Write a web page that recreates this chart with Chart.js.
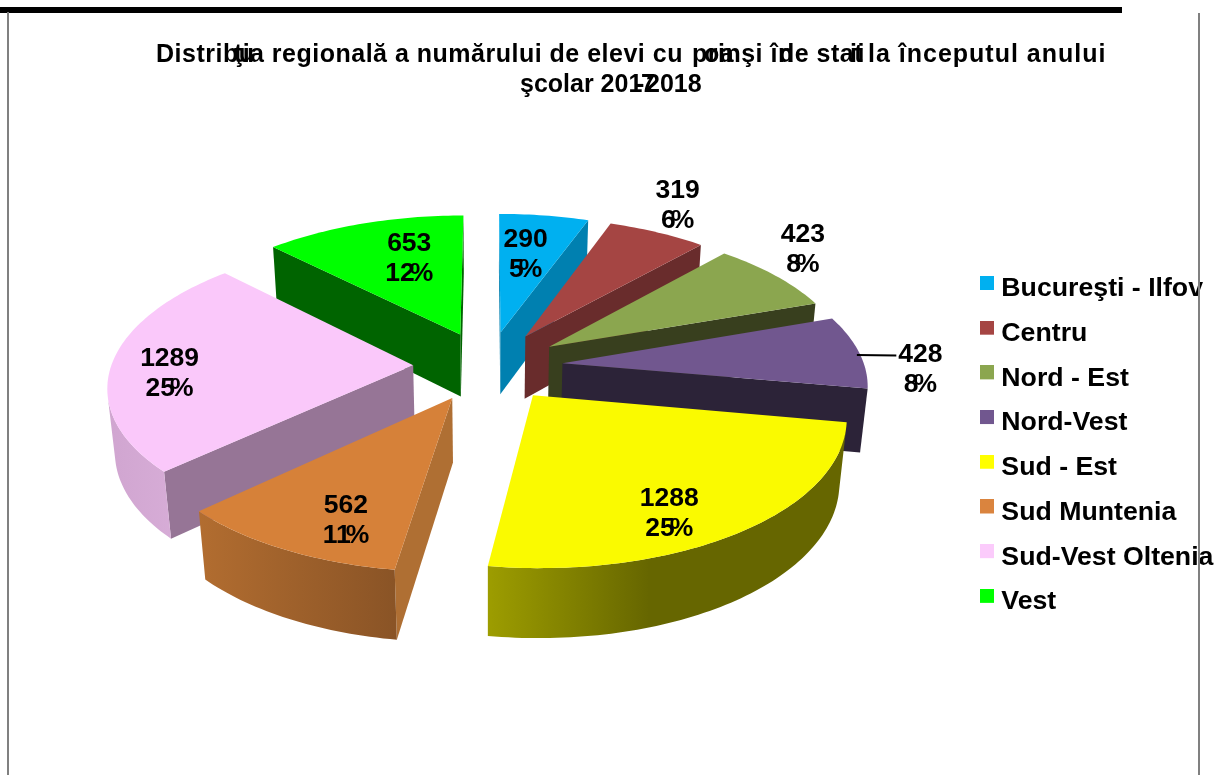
<!DOCTYPE html>
<html>
<head>
<meta charset="utf-8">
<style>
html,body{margin:0;padding:0;background:#fff;overflow:hidden}
#wrap{position:relative;width:1215px;height:775px}
canvas{display:block}
.rule{position:absolute;pointer-events:none}
</style>
<script src="https://cdn.jsdelivr.net/npm/chart.js@4"></script>
</head>
<body>
<div id="wrap">
<canvas id="c" width="1215" height="775"></canvas>
<div class="rule" style="left:0;top:7px;width:1122px;height:6px;background:#000"></div>
<div class="rule" style="left:7px;top:12px;width:2px;height:763px;background:#808080"></div>
<div class="rule" style="left:1198px;top:13px;width:2px;height:762px;background:#808080"></div>
</div>
<script>
const categories = ['Bucureşti - Ilfov','Centru','Nord - Est','Nord-Vest','Sud - Est','Sud Muntenia','Sud-Vest Oltenia','Vest'];
const values = [290,319,423,428,1288,562,1289,653];
const percentNumbers = ['5','6','8','8','25','11','25','12'];

const legendColors = ['#00B0F0','#A54543','#8BA64F','#71578F','#FFFF00','#DA843E','#FBCBFB','#00FF00'];
const topColors    = ['#00B0F0','#A54543','#8BA64F','#71578F','#FAFA00','#D68139','#FAC8FA','#00FF00'];
const sideColors   = ['#0080B0','#692C2C','#383F1E','#2C2338','#666600','#AF6F33','#967596','#006400'];
const rimStops = [
  [[0,'#0080B0'],[1,'#0080B0']],
  [[0,'#692C2C'],[1,'#692C2C']],
  [[0,'#383F1E'],[1,'#383F1E']],
  [[0,'#2C2338'],[1,'#2C2338']],
  [[0,'#9D9D00'],[0.45,'#666600'],[1,'#666600']],
  [[0,'#B26D30'],[1,'#8A5426']],
  [[0,'#D0A5D0'],[1,'#DCB2DC']],
  [[0,'#006400'],[1,'#006400']]
];
const camera = {cx:488, cy:366, sx:302, sy:142, persp:0.13, drop:64.5, dropPersp:0.02};
const explode = 0.248;
const labelReach = [0.905,1.53,1.50,1.43,1.05,1.03,1.05,0.905];
const labelTurn  = [-1.1,-2,-5,5,5.5,-4,-3,3.7];
const leaderSlices = [3];

const titleFont = 'bold 25px "Liberation Sans", Arial, sans-serif';
const titleLines = [
  {base:62, parts:[['Distribu',156,0.5],['ţi',234,0.5],['a regională a numărului de elevi cu',250,0.5],['prinşi în',692,0.5],['oa',704,0.5],['de stat',779,0.5],['ii',850,0.5],['la începutul anului',868,1]]},
  {base:92, parts:[['şcolar 201',520,0],['-',636,0],['7',641,0],['2018',646,0]]}
];
const labelFont = 'bold 26.5px "Liberation Sans", Arial, sans-serif';

function project(X,Y,Z){
  const w = 1 + camera.persp*Y + camera.dropPersp*Z;
  return [camera.cx + camera.sx*X/w, camera.cy + (-camera.sy*Y + camera.drop*Z)/w];
}
function planePoint(mid,theta,r){
  return [explode*Math.sin(mid) + r*Math.sin(theta), explode*Math.cos(mid) + r*Math.cos(theta)];
}
function area(p){let s=0;for(let i=0;i<p.length;i++){const a=p[i],b=p[(i+1)%p.length];s+=a[0]*b[1]-b[0]*a[1];}return s;}
function fillPoly(ctx,p,fill){
  ctx.beginPath();ctx.moveTo(p[0][0],p[0][1]);
  for(let i=1;i<p.length;i++)ctx.lineTo(p[i][0],p[i][1]);
  ctx.closePath();ctx.fillStyle=fill;ctx.fill();
}
function wallQuad(a,b){
  return [project(a[0],a[1],0),project(b[0],b[1],0),project(b[0],b[1],1),project(a[0],a[1],1)];
}
function drawWall(ctx,a,b,fill){
  const q=wallQuad(a,b);
  if(area(q)<0) fillPoly(ctx,q,fill);
}
function drawRim(ctx,rim,fill){
  let run=[];
  const flush=()=>{
    if(run.length>1){
      const up=run.map(p=>project(p[0],p[1],0));
      const down=run.slice().reverse().map(p=>project(p[0],p[1],1));
      fillPoly(ctx,up.concat(down),fill);
    }
    run=[];
  };
  for(let k=0;k<rim.length-1;k++){
    if(area(wallQuad(rim[k],rim[k+1]))<0){
      if(!run.length) run.push(rim[k]);
      run.push(rim[k+1]);
    } else flush();
  }
  flush();
}
function legendSwatch(color){
  const c=document.createElement('canvas');
  c.width=14;c.height=26;
  const g=c.getContext('2d');
  g.fillStyle=color;g.fillRect(0,0,14,14);
  return c;
}
const pie3d = {
  id:'pie3d',
  afterLayout(chart){
    const lg=chart.legend; const pad=lg.options.labels.padding;
    lg.left=986-pad; lg.top=275.6-pad; lg.bottom=775; lg.right=1215;
  },
  beforeDatasetDraw(chart,args){
    const ctx=chart.ctx, arcs=chart.getDatasetMeta(args.index).data;
    const slices=arcs.map((arc,i)=>{
      const a=arc.startAngle+Math.PI/2, b=arc.endAngle+Math.PI/2, mid=(a+b)/2;
      return {i,a,b,mid,depth:explode*Math.cos(mid)};
    }).sort((p,q)=>q.depth-p.depth);
    ctx.save();
    slices.forEach(s=>{
      const n=Math.max(8,Math.ceil((s.b-s.a)/0.02)), rim=[];
      for(let k=0;k<=n;k++) rim.push(planePoint(s.mid,s.a+(s.b-s.a)*k/n,1));
      const apex=planePoint(s.mid,0,0);
      drawWall(ctx,apex,rim[0],sideColors[s.i]);
      drawWall(ctx,rim[n],apex,sideColors[s.i]);
      const xs=rim.map(p=>project(p[0],p[1],0)[0]);
      const grad=ctx.createLinearGradient(Math.min(...xs),0,Math.max(...xs),0);
      rimStops[s.i].forEach(t=>grad.addColorStop(t[0],t[1]));
      drawRim(ctx,rim,grad);
      const top=[project(apex[0],apex[1],0)].concat(rim.map(p=>project(p[0],p[1],0)));
      fillPoly(ctx,top,topColors[s.i]);
    });
    ctx.restore();
    return false;
  },
  afterDatasetsDraw(chart){
    const ctx=chart.ctx, arcs=chart.getDatasetMeta(0).data;
    ctx.save();
    ctx.fillStyle='#000';ctx.textBaseline='alphabetic';ctx.textAlign='left';
    ctx.font=titleFont;
    titleLines.forEach(l=>l.parts.forEach(p=>{ctx.letterSpacing=p[2]+'px';ctx.fillText(p[0],p[1],l.base);}));
    ctx.letterSpacing='0px';
    ctx.font=labelFont;
    arcs.forEach((arc,i)=>{
      const a=arc.startAngle+Math.PI/2,b=arc.endAngle+Math.PI/2,mid=(a+b)/2;
      const t=mid+labelTurn[i]*Math.PI/180,r=labelReach[i];
      const [x,y]=project(r*Math.sin(t),r*Math.cos(t),0);
      const v=String(values[i]),vw=ctx.measureText(v).width;
      if(leaderSlices.includes(i)){
        const e=planePoint(mid,mid,1),q=project(e[0],e[1],0);
        ctx.strokeStyle='#000';ctx.lineWidth=2;ctx.beginPath();
        ctx.moveTo(q[0]-2,q[1]+3);ctx.lineTo(x-vw/2-2,y-15+3);ctx.stroke();
      }
      ctx.fillStyle='#000';
      ctx.fillText(v,x-vw/2,y-5.5);
      const d=percentNumbers[i],dw=ctx.measureText(d).width,pw=ctx.measureText('%').width,ov=5;
      const sx=x-(dw+pw-ov)/2;
      ctx.fillText(d,sx,y+24.5);
      ctx.fillText('%',sx+dw-ov,y+24.5);
    });
    ctx.restore();
  }
};
new Chart(document.getElementById('c'),{
  type:'pie',
  data:{labels:categories,datasets:[{data:values,backgroundColor:legendColors,borderWidth:0}]},
  options:{
    responsive:false,animation:false,
    plugins:{
      tooltip:{enabled:false},
      title:{display:false},
      legend:{
        position:'right',align:'start',
        labels:{
          color:'#000',usePointStyle:true,boxWidth:2,boxHeight:4,padding:18,
          font:{family:'"Liberation Sans", Arial, sans-serif',size:26.7,weight:'bold'},
          generateLabels(chart){
            return chart.data.labels.map((t,i)=>({text:t,fillStyle:legendColors[i],strokeStyle:legendColors[i],lineWidth:0,pointStyle:legendSwatch(legendColors[i]),hidden:false,index:i}));
          }
        }
      }
    }
  },
  plugins:[pie3d]
});
</script>
</body>
</html>
